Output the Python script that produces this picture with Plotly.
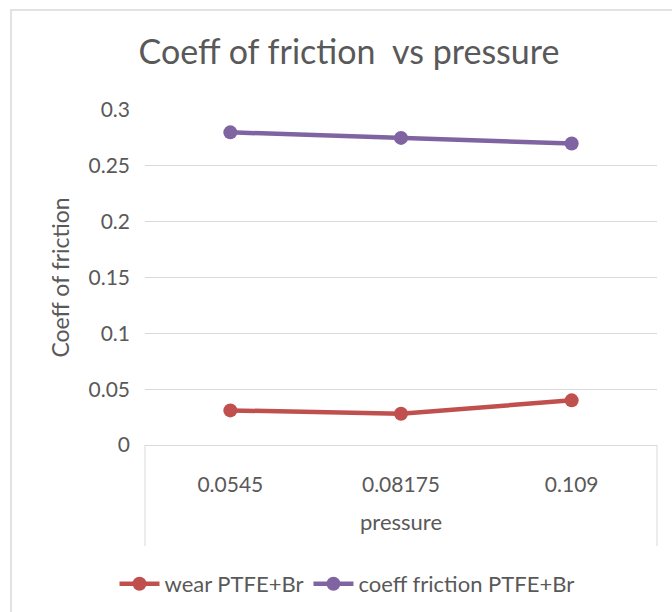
import plotly.graph_objects as go

categories = ["0.0545", "0.08175", "0.109"]
wear = [0.031, 0.028, 0.040]
coeff = [0.280, 0.275, 0.270]
series_names = ["wear PTFE+Br", "coeff friction PTFE+Br"]
y_ticks = [0, 0.05, 0.1, 0.15, 0.2, 0.25, 0.3]

FONT = "Lato"
TXT = "#595959"
RED = "#C0504D"
PURPLE = "#8064A2"

W, H = 672, 612
L, R, T, B = 145, 15, 110, 167
pw, ph = W - L - R, H - T - B

def px_to_paper_x(x):
    return (x - L) / pw

def px_to_paper_y(y):
    return (H - B - y) / ph

fig = go.Figure()
fig.add_trace(go.Scatter(x=categories, y=wear, name=series_names[0], mode="lines+markers",
                         line=dict(color=RED, width=4.5), marker=dict(size=14, color=RED)))
fig.add_trace(go.Scatter(x=categories, y=coeff, name=series_names[1], mode="lines+markers",
                         line=dict(color=PURPLE, width=4.5), marker=dict(size=14, color=PURPLE)))

shapes = [
    dict(type="rect", xref="paper", yref="paper",
         x0=px_to_paper_x(11), x1=px_to_paper_x(700), y0=px_to_paper_y(640), y1=px_to_paper_y(10),
         line=dict(color="#D9D9D9", width=1.5), fillcolor="rgba(0,0,0,0)", layer="below"),
    dict(type="line", xref="paper", yref="paper", x0=0, x1=0, y0=0, y1=px_to_paper_y(546),
         line=dict(color="#D9D9D9", width=1)),
    dict(type="line", xref="paper", yref="paper", x0=1, x1=1, y0=0, y1=px_to_paper_y(546),
         line=dict(color="#D9D9D9", width=1)),
]

fig.update_layout(
    width=W, height=H,
    margin=dict(l=L, r=R, t=T, b=B, autoexpand=False),
    paper_bgcolor="white", plot_bgcolor="white",
    font=dict(family=FONT, color=TXT, size=21),
    title=dict(text="Coeff of friction  vs pressure", x=px_to_paper_x(349), xref="paper", xanchor="center",
               y=1 - 52 / H, yanchor="middle", font=dict(size=34, color=TXT, family=FONT)),
    showlegend=True,
    legend=dict(orientation="h", x=px_to_paper_x(347), xanchor="center", y=px_to_paper_y(584), yanchor="middle",
                font=dict(size=22, color=TXT), itemwidth=40, bgcolor="rgba(0,0,0,0)"),
    shapes=shapes,
)

fig.update_xaxes(type="category", range=[-0.5, 2.5], showgrid=False, showline=True, linecolor="#D9D9D9",
                 linewidth=1, ticks="", tickfont=dict(size=21, color=TXT), ticklabelstandoff=21,
                 automargin=False,
                 title=dict(text="pressure", font=dict(size=22, color=TXT), standoff=19))
fig.update_yaxes(range=[0, 0.3], tickvals=y_ticks, ticktext=[str(v) for v in y_ticks],
                 showgrid=True, gridcolor="#D9D9D9", gridwidth=1, zeroline=False, showline=False,
                 ticks="", tickfont=dict(size=21, color=TXT), ticklabelstandoff=14, automargin=False,
                 title=dict(text="Coeff of friction", font=dict(size=23, color=TXT), standoff=12))

fig.write_html("out.html", config={"displayModeBar": False},
               post_script="document.body.style.margin='0';")
